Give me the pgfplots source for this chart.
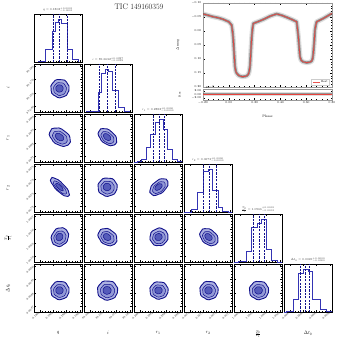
\documentclass[border=0pt]{standalone}
\usepackage{pgfplots}
\usepackage{pgfplotstable}
\pgfplotsset{compat=1.18}
\definecolor{navy}{HTML}{12128C}
\definecolor{hblue}{HTML}{3434B4}
\definecolor{c1}{HTML}{ADB2E1}
\definecolor{c2}{HTML}{9298D6}
\definecolor{c3}{HTML}{555BBA}
\definecolor{fitred}{HTML}{E8413C}
\newcommand{\tfont}{\fontsize{5.6}{6}\selectfont}
\newcommand{\lfont}{\fontsize{10}{12}\selectfont}

% contour outline (unit shape, read off the KDE levels)
\pgfplotstableread{
u v
1.000 0.000
0.995 0.267
0.849 0.490
0.721 0.721
0.525 0.909
0.256 0.956
0.000 0.970
-0.264 0.985
-0.520 0.901
-0.693 0.693
-0.866 0.500
-0.995 0.267
-0.970 0.000
-0.956 -0.256
-0.901 -0.520
-0.714 -0.714
-0.480 -0.831
-0.264 -0.985
0.000 -1.030
0.254 -0.947
0.500 -0.866
0.735 -0.735
0.857 -0.495
0.976 -0.262
1.000 0.000
}\shape

% light curve model (phase, delta mag)
\pgfplotstableread{
ph mag
-0.200 -0.061
-0.160 -0.056
-0.122 -0.051
-0.080 -0.047
-0.045 -0.042
0.000 -0.033
0.022 -0.021
0.030 0.005
0.035 0.032
0.042 0.085
0.048 0.127
0.055 0.145
0.061 0.151
0.075 0.158
0.087 0.161
0.105 0.163
0.126 0.162
0.140 0.160
0.151 0.155
0.158 0.145
0.164 0.127
0.170 0.080
0.178 0.020
0.184 -0.010
0.190 -0.027
0.230 -0.034
0.267 -0.041
0.320 -0.053
0.371 -0.061
0.410 -0.056
0.449 -0.049
0.490 -0.041
0.526 -0.033
0.532 -0.010
0.539 0.020
0.546 0.060
0.552 0.092
0.560 0.104
0.575 0.110
0.604 0.113
0.630 0.111
0.643 0.107
0.650 0.098
0.655 0.080
0.662 0.040
0.668 -0.004
0.675 -0.022
0.681 -0.033
0.733 -0.045
0.770 -0.055
0.800 -0.063
}\lc

\pgfplotstableread{
ph res
-0.200 0
0.800 0
}\res

\pgfplotsset{
  cbase/.style={anchor=north west, width=96pt, height=96pt, scale only axis,
    xmin=0, xmax=1, ymin=0, ymax=1, axis line style={line width=0.9pt},
    tick align=inside, xtick={0.12,0.40,0.68,0.96}, ytick={0.12,0.40,0.68,0.96},
    minor tick num=4, major tick length=3.6pt, minor tick length=1.8pt,
    every tick/.style={black, line width=0.6pt},
    xticklabels={}, yticklabels={}, xtick pos=both, ytick pos=both,
    tick label style={font=\tfont, text=black!85},
    xticklabel style={rotate=45, anchor=east, inner sep=1.2pt},
    yticklabel style={rotate=45, anchor=east, inner sep=1.2pt}},
}

\newcommand{\blob}[5]{%
\addplot[draw=navy, fill=c1, line width=1.8pt] table[
  x expr={#1+1.0*((#3)*\thisrow{u}*cos(#5)-(#4)*\thisrow{v}*sin(#5))},
  y expr={#2+1.0*((#3)*\thisrow{u}*sin(#5)+(#4)*\thisrow{v}*cos(#5))}] {\shape};
\addplot[draw=navy, fill=c2, line width=1pt] table[
  x expr={#1+0.7*((#3)*\thisrow{u}*cos(#5)-(#4)*\thisrow{v}*sin(#5))},
  y expr={#2-0.01+0.7*((#3)*\thisrow{u}*sin(#5)+(#4)*\thisrow{v}*cos(#5))}] {\shape};
\addplot[draw=navy, fill=c3, line width=1pt] table[
  x expr={#1-0.01+0.4*((#3)*\thisrow{u}*cos(#5)-(#4)*\thisrow{v}*sin(#5))},
  y expr={#2+0.4*((#3)*\thisrow{u}*sin(#5)+(#4)*\thisrow{v}*cos(#5))}] {\shape};
}

% \panel[opts]{col}{row}{cx}{cy}{a}{b}{angle}
\newcommand{\panel}[8][]{%
\begin{axis}[cbase, #1, at={(68pt+100pt*#2,-28pt-100pt*#3)}]
\blob{#4}{#5}{#6}{#7}{#8}
\end{axis}}

% \hist[opts]{k}{coords}{q16}{q50}{q84}{title}
\newcommand{\hist}[7][]{%
\begin{axis}[cbase, ymax=1.12, ytick=\empty, #1, at={(68pt+100pt*#2,-28pt-100pt*#2)}]
\addplot[hblue, line width=1.6pt, const plot] coordinates {#3};
\addplot[navy, line width=1.8pt, dash pattern=on 4.4pt off 2.4pt] coordinates {(#4,0) (#4,1.12)};
\addplot[navy, line width=1.8pt, dash pattern=on 4.4pt off 2.4pt] coordinates {(#5,0) (#5,1.12)};
\addplot[navy, line width=1.8pt, dash pattern=on 4.4pt off 2.4pt] coordinates {(#6,0) (#6,1.12)};
\end{axis}
\node[font=\tfont, text=black!80, anchor=south, inner sep=1pt] at (116pt+100pt*#2,-26pt-100pt*#2) {#7};}

\begin{document}
\begin{tikzpicture}
\path[use as bounding box] (0,0) rectangle (678pt,-692pt);

\node[font=\fontsize{16}{18}\selectfont] at (278pt,-13pt) {TIC 149160359};

% diagonal
\hist{0}{(0,0) (0.10,0.02) (0.23,0.30) (0.375,0.72) (0.44,0.92) (0.50,1.0) (0.58,0.90) (0.69,0.30) (0.79,0.05) (0.92,0.0) (1,0)}
  {0.40}{0.54}{0.69}{$q = 0.1802^{+0.0001}_{-0.0001}$}
\hist{1}{(0,0) (0.05,0.01) (0.15,0.02) (0.30,0.45) (0.37,0.90) (0.44,1.0) (0.50,0.95) (0.60,0.50) (0.71,0.10) (0.85,0.02) (0.95,0) (1,0)}
  {0.32}{0.49}{0.65}{$i = 89.6632^{+0.0237}_{-0.0239}$}
\hist{2}{(0,0) (0.08,0.02) (0.15,0.06) (0.25,0.35) (0.35,0.65) (0.45,0.92) (0.52,1.0) (0.62,0.75) (0.70,0.30) (0.80,0.06) (0.90,0.01) (1,0)}
  {0.40}{0.52}{0.63}{$r_1 = 0.2882^{+0.0000}_{-0.0000}$}
\hist{3}{(0,0) (0.15,0.05) (0.27,0.45) (0.40,0.95) (0.50,1.0) (0.60,0.50) (0.71,0.10) (0.81,0.02) (0.92,0) (1,0)}
  {0.40}{0.52}{0.67}{$r_2 = 0.0673^{+0.0000}_{-0.0000}$}
\hist{4}{(0,0) (0.10,0.02) (0.26,0.25) (0.37,0.80) (0.48,0.90) (0.58,1.0) (0.67,0.30) (0.78,0.03) (0.90,0) (1,0)}
  {0.40}{0.52}{0.63}{$\frac{T_2}{T_1} = 1.0966^{+0.0001}_{-0.0001}$}
\hist[xticklabels={0.0047,0.0048,0.0049,0.0050}]{5}{(0,0) (0.05,0.02) (0.19,0.30) (0.29,0.90) (0.40,1.0) (0.50,0.95) (0.60,0.30) (0.75,0.05) (0.88,0.01) (1,0)}
  {0.35}{0.45}{0.54}{$\Delta t_0 = 0.0049^{+0.0000}_{-0.0000}$}

% lower triangle
\panel[yticklabels={89.640,89.655,89.670,89.685}]{0}{1}{0.54}{0.49}{0.19}{0.19}{0}
\panel[yticklabels={0.2881,0.2882,0.2883,0.2884}]{0}{2}{0.54}{0.52}{0.24}{0.16}{-35}
\panel{1}{2}{0.49}{0.52}{0.22}{0.14}{-40}
\panel[yticklabels={0.0672,0.0673,0.0674,0.0675}]{0}{3}{0.54}{0.52}{0.26}{0.09}{-45}
\panel{1}{3}{0.49}{0.52}{0.20}{0.19}{0}
\panel{2}{3}{0.52}{0.52}{0.22}{0.13}{40}
\panel[yticklabels={1.0964,1.0965,1.0966,1.0967}]{0}{4}{0.54}{0.52}{0.20}{0.17}{60}
\panel{1}{4}{0.49}{0.52}{0.21}{0.16}{-35}
\panel{2}{4}{0.52}{0.52}{0.19}{0.18}{30}
\panel{3}{4}{0.52}{0.52}{0.21}{0.15}{-40}
\panel[yticklabels={0.0047,0.0048,0.0049,0.0050}, xticklabels={0.1800,0.1801,0.1802,0.1803}]{0}{5}{0.54}{0.45}{0.19}{0.19}{0}
\panel[xticklabels={89.640,89.655,89.670,89.685}]{1}{5}{0.49}{0.45}{0.21}{0.20}{0}
\panel[xticklabels={0.2881,0.2882,0.2883,0.2884}]{2}{5}{0.52}{0.45}{0.19}{0.18}{0}
\panel[xticklabels={0.0672,0.0673,0.0674,0.0675}]{3}{5}{0.52}{0.45}{0.19}{0.19}{0}
\panel[xticklabels={1.0964,1.0965,1.0966,1.0967}]{4}{5}{0.52}{0.45}{0.20}{0.19}{0}

% axis labels
\node[font=\lfont] at (116pt,-666pt) {$q$};
\node[font=\lfont] at (216pt,-666pt) {$i$};
\node[font=\lfont] at (316pt,-666pt) {$r_1$};
\node[font=\lfont] at (416pt,-666pt) {$r_2$};
\node[font=\lfont] at (516pt,-668pt) {$\frac{T_2}{T_1}$};
\node[font=\lfont] at (616pt,-666pt) {$\Delta t_0$};
\node[font=\lfont, rotate=90] at (16pt,-176pt) {$i$};
\node[font=\lfont, rotate=90] at (16pt,-276pt) {$r_1$};
\node[font=\lfont, rotate=90] at (16pt,-376pt) {$r_2$};
\node[font=\lfont, rotate=90] at (16pt,-476pt) {$\frac{T_2}{T_1}$};
\node[font=\lfont, rotate=90] at (16pt,-576pt) {$\Delta t_0$};

% light curve
\begin{axis}[anchor=north west, at={(406pt,-6pt)}, width=258pt, height=168pt, scale only axis,
  xmin=-0.2, xmax=0.8, ymin=-0.10, ymax=0.20, y dir=reverse,
  xtick={-0.2,0,0.2,0.4,0.6,0.8}, xticklabels={},
  ytick={-0.10,-0.05,0,0.05,0.10,0.15,0.20},
  minor tick num=4, tick align=inside, major tick length=3.6pt, minor tick length=1.8pt,
  every tick/.style={black, line width=0.6pt}, axis line style={gray!80, line width=1pt},
  xtick pos=both, ytick pos=both,
  yticklabel style={font=\tfont, /pgf/number format/fixed, /pgf/number format/fixed zerofill, /pgf/number format/precision=2},
  ylabel={$\Delta$ mag}, ylabel style={font=\fontsize{7}{8}\selectfont, at={(axis description cs:-0.17,0.5)}},
  legend style={font=\tfont, at={(0.98,0.02)}, anchor=south east, draw=gray!40, line width=0.6pt, inner sep=1.2pt},
  legend image code/.code={\draw[#1] (0pt,0pt) -- (14pt,0pt);}]
\addplot[gray!55, opacity=0.45, line width=10pt, line join=round, forget plot] table[x=ph, y=mag] {\lc};
\addplot[black!75, opacity=0.5, line width=5pt, line join=round, forget plot] table[x=ph, y=mag] {\lc};
\addplot[fitred, line width=1.6pt, opacity=0.9] table[x=ph, y=mag] {\lc};
\addlegendentry{Best}
\end{axis}

\begin{axis}[anchor=north west, at={(406pt,-178pt)}, width=258pt, height=22pt, scale only axis,
  xmin=-0.2, xmax=0.8, ymin=-0.03, ymax=0.03,
  xtick={-0.2,0,0.2,0.4,0.6,0.8}, ytick={-0.02,0,0.02},
  minor x tick num=4, tick align=inside, major tick length=3pt, minor tick length=1.6pt,
  every tick/.style={black, line width=0.6pt}, axis line style={gray!80, line width=1pt},
  xtick pos=both, ytick pos=both,
  tick label style={font=\tfont, /pgf/number format/fixed, /pgf/number format/fixed zerofill, /pgf/number format/precision=2},
  xlabel={Phase}, xlabel style={font=\fontsize{7}{8}\selectfont, at={(axis description cs:0.5,-1.2)}},
  ylabel={Res}, ylabel style={font=\tfont, at={(axis description cs:-0.16,0.5)}}]
\addplot[gray!55, opacity=0.45, line width=8pt] table[x=ph, y=res] {\res};
\addplot[black!75, opacity=0.45, line width=4pt] table[x=ph, y=res] {\res};
\addplot[fitred, line width=1.2pt] table[x=ph, y=res] {\res};
\end{axis}
\end{tikzpicture}
\end{document}
